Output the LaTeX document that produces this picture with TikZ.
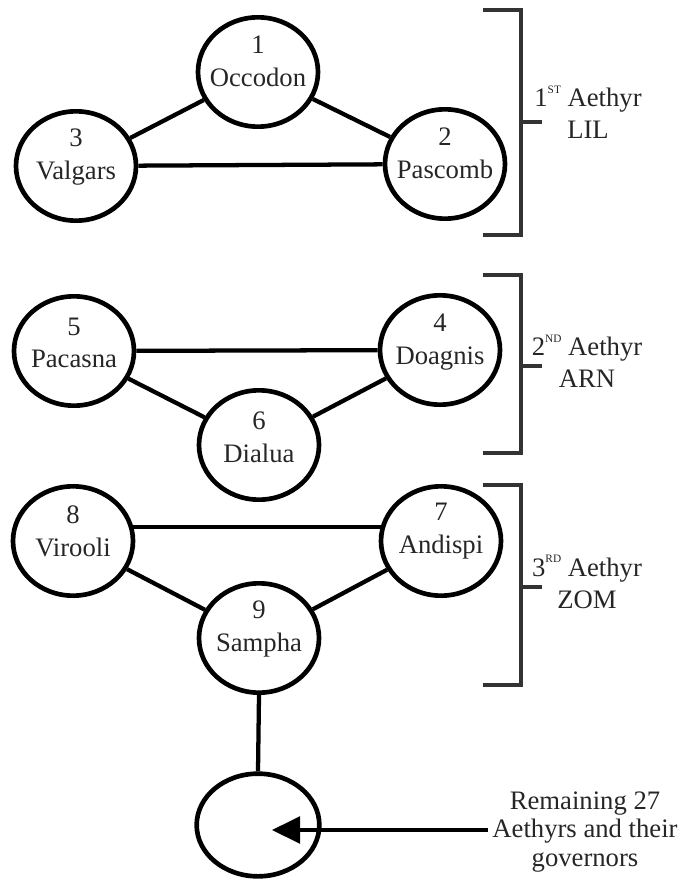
\documentclass[tikz,border=0pt]{standalone}
\usepackage{fontspec}
\setmainfont{Liberation Serif}
\usetikzlibrary{shapes.geometric,arrows.meta}
\newcommand{\mysup}[1]{\raisebox{0.5em}{\fontsize{8.5}{8.5}\selectfont #1}}
\begin{document}
\begin{tikzpicture}[x=0.75pt,y=-0.75pt,
  gov/.style={ellipse, draw=black, line width=3.5pt, minimum width=90pt, minimum height=82pt, inner sep=0pt},
  endgov/.style={ellipse, draw=black, line width=3.5pt, minimum width=92pt, minimum height=77pt, inner sep=0pt},
  lbl/.style={align=center, font=\fontsize{20}{24.5}\selectfont, text=black!85, inner sep=2pt},
  side/.style={align=center, font=\fontsize{20}{24}\selectfont, text=black!85},
  link/.style={line width=3.2pt, black},
  brk/.style={line width=2.5pt, black!80, line cap=butt},
  pointer/.style={line width=2.5pt, black, -{Triangle[length=21pt,width=20pt]}}
]
\useasboundingbox (0,0) rectangle (687,884);

% governors
\node[gov] (n1) at (258,72) {};
\node[gov] (n2) at (445,164) {};
\node[gov] (n3) at (76,166) {};
\node[gov] (n5) at (74,351) {};
\node[gov] (n4) at (440,350) {};
\node[gov] (n6) at (259,445) {};
\node[gov] (n8) at (73,541) {};
\node[gov] (n7) at (441,541) {};
\node[gov] (n9) at (259,638) {};
\node[endgov] (n10) at (258,825) {};

% texts
\node[lbl] (t1) at (258,61) {1\\Occodon};
\node[lbl] (t2) at (445,153) {2\\Pascomb};
\node[lbl] (t3) at (76,157) {3\\Valgars};
\node[lbl] (t5) at (74,343) {5\\Pacasna};
\node[lbl] (t4) at (440,342) {4\\Doagnis};
\node[lbl] (t6) at (259,437) {6\\Dialua};
\node[lbl] (t8) at (73,531) {8\\Virooli};
\node[lbl] (t7) at (441,531) {7\\Andispi};
\node[lbl] (t9) at (259,629) {9\\Sampha};

% connectors
\draw[link] (n1) -- (n3);
\draw[link] (n1) -- (n2);
\draw[link] (n3) -- (n2);
\draw[link] (n5) -- (n4);
\draw[link] (n5) -- (n6);
\draw[link] (n4) -- (n6);
\draw[link] (n8.13) -- (n7.167);
\draw[link] (n8) -- (n9);
\draw[link] (n7) -- (n9);
\draw[link] (n9.south) -- (n10.north);

% brackets
\draw[brk] (483,10) -- (521,10) -- (521,235) -- (483,235);
\draw[brk] (521,122) -- (542,122);
\draw[brk] (483,275) -- (521,275) -- (521,453) -- (483,453);
\draw[brk] (521,366) -- (542,366);
\draw[brk] (483,485) -- (521,485) -- (521,685) -- (483,685);
\draw[brk] (521,587) -- (542,587);

\node[side] (a1) at (588,112) {1\mysup{ST} Aethyr\\LIL};
\node[side] (a2) at (587,361) {2\mysup{ND} Aethyr\\ARN};
\node[side] (a3) at (587,582) {3\mysup{RD} Aethyr\\ZOM};

% remaining
\node[side, font=\fontsize{20}{21.5}\selectfont] (rem) at (585,832) {Remaining 27\\Aethyrs and their\\governors};
\coordinate (tip) at (272,830);
\draw[pointer] (rem.west |- tip) -- (tip);
\end{tikzpicture}
\end{document}
